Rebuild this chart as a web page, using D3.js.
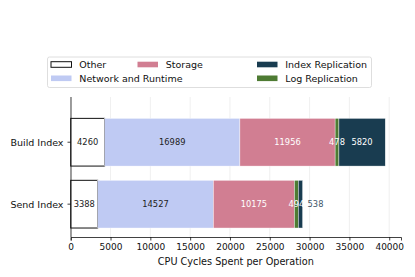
<!DOCTYPE html>
<html>
<head>
<meta charset="utf-8">
<script src="https://cdn.jsdelivr.net/npm/d3@7"></script>
<style>
  body { margin: 0; background: #fff; }
  text { font-family: "DejaVu Sans", sans-serif; }
</style>
</head>
<body>
<script>
// Data
const operations = ["Build Index", "Send Index"];
const components = ["Other", "Network and Runtime", "Storage", "Log Replication", "Index Replication"];
const buildIndex = [4260, 16989, 11956, 478, 5820];
const sendIndex = [3388, 14527, 10175, 494, 538];
const xTicks = [0, 5000, 10000, 15000, 20000, 25000, 30000, 35000, 40000];
const xLabel = "CPU Cycles Spent per Operation";

const colors = {
    "Other": "#ffffff",
    "Network and Runtime": "#bfcaf3",
    "Storage": "#d17e92",
    "Log Replication": "#4e7b33",
    "Index Replication": "#193c50"
};
const labelColors = ["#222", "#222", "#fff", "#fff", "#fff"];

// legend order, by column
const legendCols = [["Other", "Network and Runtime"], ["Storage"], ["Index Replication", "Log Replication"]];

const width = 415, height = 277;
const margin = {top: 97, right: 14, bottom: 40, left: 71};

const svg = d3.select("body").append("svg")
    .attr("width", width)
    .attr("height", height);

const rows = [buildIndex, sendIndex];
const totals = rows.map(r => d3.sum(r));

// Scales
const x = d3.scaleLinear()
    .domain([0, d3.max(totals) * 1.05])
    .range([margin.left - 0.3, width - margin.right]);

const y = d3.scaleLinear()
    .domain([-0.53, 1.73])
    .range([height - margin.bottom, margin.top]);

const barH = y(0) - y(0.77);

// gridlines
svg.append("g")
    .selectAll("line")
    .data(xTicks)
    .enter().append("line")
    .attr("x1", d => x(d)).attr("x2", d => x(d))
    .attr("y1", margin.top).attr("y2", height - margin.bottom)
    .attr("stroke", "#ebebeb")
    .attr("stroke-width", 0.8);

// bars
rows.forEach((vals, i) => {
    const yc = y(1 - i);
    let acc = 0;
    const g = svg.append("g");
    vals.forEach((v, j) => {
        const x0 = x(acc), x1 = x(acc + v);
        g.append("rect")
            .attr("x", x0)
            .attr("y", yc - barH / 2)
            .attr("width", x1 - x0)
            .attr("height", barH)
            .attr("fill", colors[components[j]])
            .attr("stroke", j === 0 ? "#111" : "#fff")
            .attr("stroke-width", j === 0 ? 1 : 0.4);
        acc += v;
    });
    // value labels
    acc = 0;
    vals.forEach((v, j) => {
        let tx = x(acc + v / 2), anchor = "middle", col = labelColors[j];
        // small last segment: label after the bar
        if (j === vals.length - 1 && x(acc + v) - x(acc) < 20) {
            tx = x(acc + v) + 5; anchor = "start"; col = "#41576a";
        }
        svg.append("text")
            .attr("x", tx)
            .attr("y", yc + 3)
            .attr("text-anchor", anchor)
            .attr("font-size", "8.3px")
            .attr("fill", col)
            .text(v);
        acc += v;
    });
});

// x axis
const xAxis = svg.append("g")
    .attr("transform", "translate(0," + (height - margin.bottom) + ")")
    .call(d3.axisBottom(x).tickValues(xTicks).tickFormat(d3.format("d")).tickSizeOuter(0).tickSize(3.5));
xAxis.select(".domain").attr("stroke", "#111").attr("stroke-width", 0.8);
xAxis.selectAll(".tick line").attr("stroke", "#111").attr("stroke-width", 0.8);
xAxis.selectAll(".tick text")
    .attr("font-size", "9px")
    .attr("font-family", "DejaVu Sans")
    .attr("fill", "#111")
    .attr("dy", 0)
    .attr("y", 13);

// y axis
svg.append("line")
    .attr("x1", margin.left).attr("x2", margin.left)
    .attr("y1", margin.top).attr("y2", height - margin.bottom)
    .attr("stroke", "#111").attr("stroke-width", 0.8);
operations.forEach((op, i) => {
    const yc = y(1 - i);
    svg.append("line")
        .attr("x1", margin.left - 3.5).attr("x2", margin.left)
        .attr("y1", yc).attr("y2", yc)
        .attr("stroke", "#111").attr("stroke-width", 0.8);
    svg.append("text")
        .attr("x", margin.left - 7.5)
        .attr("y", yc + 3.8)
        .attr("text-anchor", "end")
        .attr("font-size", "9.5px")
        .attr("fill", "#111")
        .text(op);
});

// x label
svg.append("text")
    .attr("x", (x.range()[0] + x.range()[1]) / 2)
    .attr("y", 265)
    .attr("text-anchor", "middle")
    .attr("font-size", "9.7px")
    .attr("fill", "#111")
    .text(xLabel);

// legend
const lg = svg.append("g");
lg.append("rect")
    .attr("x", 47.5).attr("y", 57)
    .attr("width", 324).attr("height", 30.5)
    .attr("rx", 2)
    .attr("fill", "#fff")
    .attr("fill-opacity", 0.85)
    .attr("stroke", "#d6d6d6")
    .attr("stroke-width", 0.8);
const colX = [51, 137.5, 257];
legendCols.forEach((col, ci) => {
    col.forEach((name, ri) => {
        const ry = 64.5 + ri * 13.8;
        lg.append("rect")
            .attr("x", colX[ci]).attr("y", ry - 2.8)
            .attr("width", 20.5).attr("height", 5.6)
            .attr("fill", colors[name])
            .attr("stroke", name === "Other" ? "#111" : "none")
            .attr("stroke-width", 1);
        lg.append("text")
            .attr("x", colX[ci] + 28.3)
            .attr("y", ry + 3.4)
            .attr("font-size", "9.5px")
            .attr("fill", "#111")
            .text(name);
    });
});
</script>
</body>
</html>
